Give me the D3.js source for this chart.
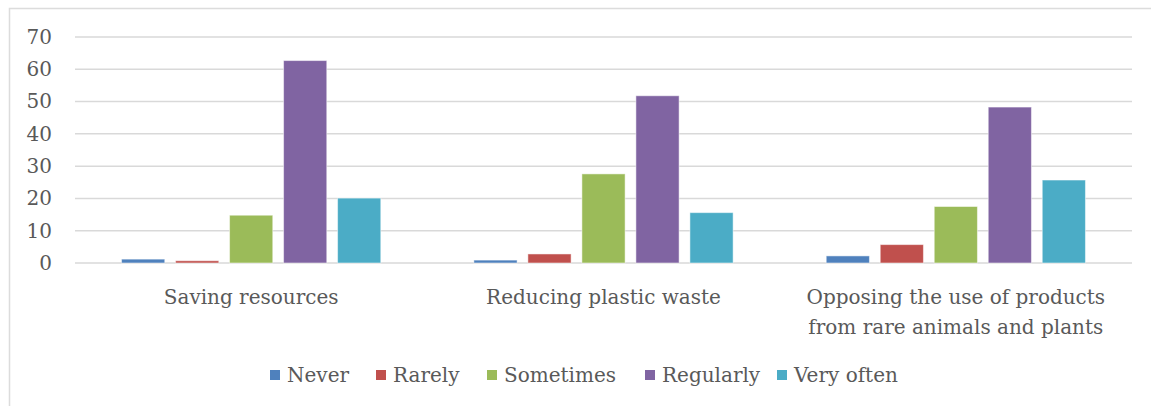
<!DOCTYPE html>
<html>
<head>
<meta charset="utf-8">
<script src="https://cdn.jsdelivr.net/npm/d3@7"></script>
<style>
  body { margin: 0; background: #fff; }
  svg { display: block; }
</style>
</head>
<body>
<svg width="1151" height="406"></svg>
<script>
var categories = ["Saving resources", "Reducing plastic waste", "Opposing the use of products\nfrom rare animals and plants"];
var series = ["Never", "Rarely", "Sometimes", "Regularly", "Very often"];
var colors = ["#4f81bd", "#c0504d", "#9bbb59", "#8064a2", "#4bacc6"];
// values per category, same order as series
var never = [1.2, 0.9, 2.2];
var rarely = [0.7, 2.8, 5.7];
var sometimes = [14.8, 27.6, 17.5];
var regularly = [62.7, 51.8, 48.3];
var veryOften = [20.1, 15.6, 25.7];
var yTicks = [0, 10, 20, 30, 40, 50, 60, 70];

var values = [never, rarely, sometimes, regularly, veryOften];
var svg = d3.select("svg");
var font = "'DejaVu Serif', serif";
var fontSize = 20;
var textColor = "#595959";

// chart frame (only left and top edges fall inside the window)
svg.append("path")
  .attr("d", "M9.5,406 V8.5 H1151")
  .attr("fill", "none")
  .attr("stroke", "#dcdcdc")
  .attr("stroke-width", 1.5);

var x0 = d3.scaleBand().domain(categories).range([75, 1132]);
var x1 = d3.scaleBand().domain(series).range([0, x0.bandwidth()])
  .paddingInner(0.2).paddingOuter(0.862);
var y = d3.scaleLinear().domain([0, 70]).range([263, 37]);

// gridlines
svg.append("g").selectAll("line").data(yTicks).join("line")
  .attr("x1", 75).attr("x2", 1132)
  .attr("y1", d => y(d)).attr("y2", d => y(d))
  .attr("stroke", "#d9d9d9").attr("stroke-width", 1.5);

// y axis labels
var yAxis = svg.append("g").attr("transform", "translate(52,0)")
  .call(d3.axisLeft(y).tickValues(yTicks).tickSize(0).tickPadding(0));
yAxis.select(".domain").remove();
yAxis.selectAll("text")
  .attr("font-family", font).attr("font-size", fontSize).attr("fill", textColor);

// bars
var groups = svg.append("g").selectAll("g").data(categories).join("g")
  .attr("transform", d => "translate(" + x0(d) + ",0)");
groups.selectAll("rect")
  .data((c, i) => series.map((s, j) => ({ s: s, v: values[j][i], c: colors[j] })))
  .join("rect")
  .attr("x", d => x1(d.s))
  .attr("width", x1.bandwidth())
  .attr("y", d => y(d.v))
  .attr("height", d => y(0) - y(d.v))
  .attr("fill", d => d.c)
  .attr("stroke", "#fff").attr("stroke-opacity", 0.5).attr("stroke-width", 1);

// category labels
svg.append("g").selectAll("text").data(categories).join("text")
  .attr("x", d => x0(d) + x0.bandwidth() / 2)
  .attr("y", 304)
  .attr("text-anchor", "middle")
  .attr("font-family", font).attr("font-size", fontSize).attr("fill", textColor)
  .selectAll("tspan").data(d => d.split("\n")).join("tspan")
  .attr("x", function() { return this.parentNode.getAttribute("x"); })
  .attr("dy", (d, i) => i ? 30 : 0)
  .text(d => d);

// legend
var legendX = [270, 376, 487, 645, 777];
var legend = svg.append("g").selectAll("g").data(series).join("g")
  .attr("transform", (d, i) => "translate(" + legendX[i] + ",375)");
legend.append("rect")
  .attr("x", 0).attr("y", -5).attr("width", 10).attr("height", 10)
  .attr("fill", (d, i) => colors[i]);
legend.append("text")
  .attr("x", 17).attr("y", 7)
  .attr("font-family", font).attr("font-size", fontSize).attr("fill", textColor)
  .text(d => d);
</script>
</body>
</html>
